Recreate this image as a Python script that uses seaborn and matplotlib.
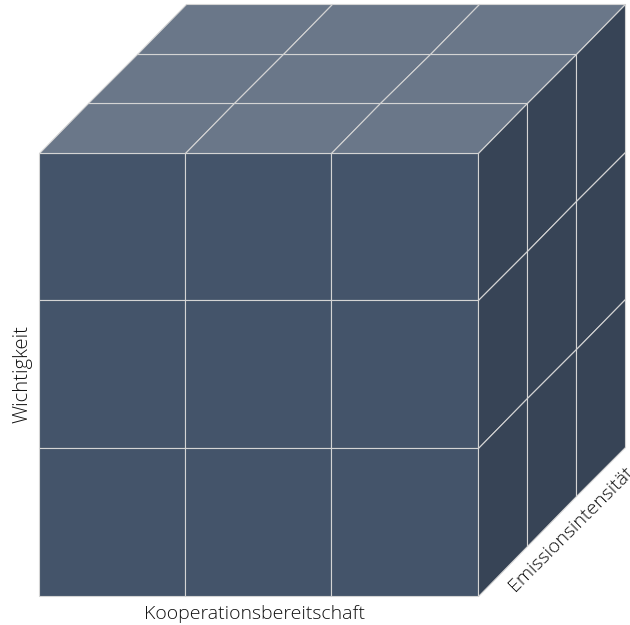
import numpy as np
import pandas as pd
import matplotlib
matplotlib.use("Agg")
import matplotlib.pyplot as plt
from matplotlib.colors import ListedColormap
import seaborn as sns

# Cube cells: one uniform value per cell on each visible face
levels = ["hoch", "mittel", "niedrig"]
front_values = [[1, 1, 1], [1, 1, 1], [1, 1, 1]]
top_values = [[1, 1, 1], [1, 1, 1], [1, 1, 1]]
side_values = [[1, 1, 1], [1, 1, 1], [1, 1, 1]]

x_label = "Kooperationsbereitschaft"
y_label = "Wichtigkeit"
z_label = "Emissionsintensität"

front_color = "#44546A"
top_color = "#6A7789"
side_color = "#374456"
line_color = "#D4D4D4"
lw = 0.8

sns.set_theme(style="white")
plt.rcParams["font.family"] = ["Open Sans", "DejaVu Sans"]

fig = plt.figure(figsize=(6.3, 6.25), dpi=100)
ax = fig.add_axes([0, 0, 1, 1])

# Front face
df_front = pd.DataFrame(front_values, index=levels, columns=levels)
sns.heatmap(df_front, ax=ax, cmap=ListedColormap([front_color]), cbar=False, linewidths=lw,
            linecolor=line_color, xticklabels=False, yticklabels=False, clip_on=False,
            antialiased=True)

# Depth of one cell in the oblique projection
depth = 0.336
n = len(levels)
grid = np.arange(n + 1)

# Top face
gx, gk = np.meshgrid(grid, grid)
ax.pcolormesh(gx + gk * depth, -gk * depth, np.array(top_values),
              cmap=ListedColormap([top_color]),
              edgecolors=line_color, linewidth=lw, antialiased=True)

# Right face
gk, gy = np.meshgrid(grid, grid)
ax.pcolormesh(n + gk * depth, gy - gk * depth, np.array(side_values),
              cmap=ListedColormap([side_color]),
              edgecolors=line_color, linewidth=lw, antialiased=True)

# Frame so the front face sits where it does in the reference
ax.set_xlim(-38.7 / 146.3, (630 - 38.7) / 146.3)
ax.set_ylim((625 - 152.7) / 147.6, -152.7 / 147.6)
ax.axis("off")

ax.text(1.472, 3.123, x_label, ha="center", va="center", fontsize=14,
        fontweight="light", color="#111111")
ax.text(-0.109, 1.497, y_label, ha="center", va="center", rotation=90, fontsize=14.6,
        fontweight="light", color="#111111")
ax.text(3.64, 2.55, z_label, ha="center", va="center", rotation=45, fontsize=14,
        fontweight="light", color="#111111", rotation_mode="anchor")

fig.savefig("out.png", dpi=100)
